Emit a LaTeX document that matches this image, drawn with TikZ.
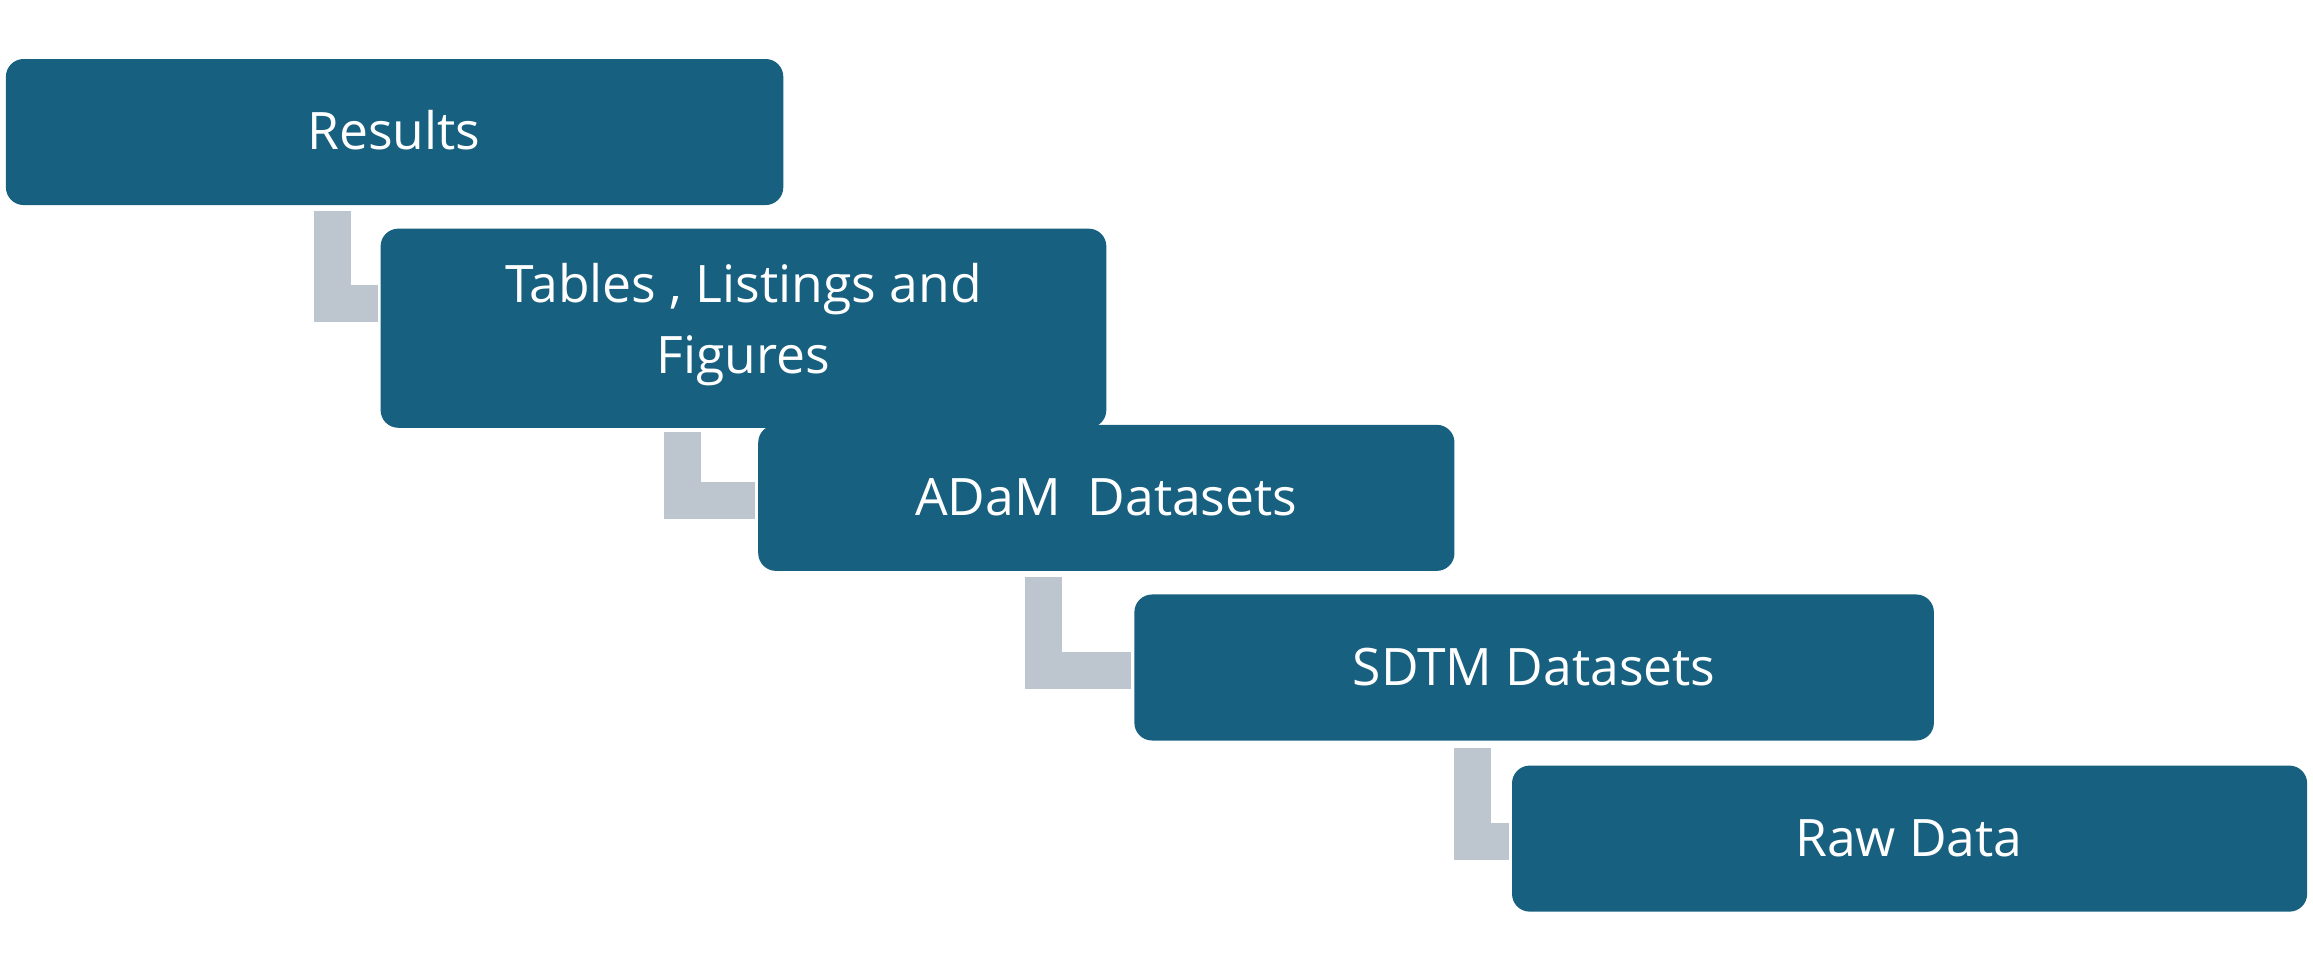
\documentclass[tikz,border=0pt]{standalone}
\usepackage{fontspec}
\setmainfont{Open Sans}
\definecolor{boxc}{HTML}{18607F}
\definecolor{linkc}{HTML}{BDC5CE}
\begin{document}
\begin{tikzpicture}[x=1pt,y=-1pt,
  box/.style={fill=boxc,rounded corners=12pt,draw=none},
  lbl/.style={text=white,font=\fontsize{35}{48}\selectfont,align=center},
  link/.style={draw=linkc,line width=25pt,line join=miter}]
\useasboundingbox (0,0) rectangle (1568,658);
\fill[box] (4,40) rectangle (531,139);
\fill[box] (258,155) rectangle (750,290);
\fill[box] (514,288) rectangle (986,387);
\fill[box] (769,403) rectangle (1311,502);
\fill[box] (1025,519) rectangle (1564,618);
\node[lbl] (r) at (267,88) {Results};
\node[lbl] (t) at (504,220) {Tables , Listings and\\Figures};
\node[lbl] (a) at (750,337) {ADaM\ \ Datasets};
\node[lbl] (s) at (1040,452) {SDTM Datasets};
\node[lbl] (w) at (1294,568) {Raw Data};
\coordinate (c1a) at (225.5,143); \coordinate (c1b) at (225.5,205.5); \coordinate (c1c) at (256,205.5);
\coordinate (c2a) at (462.5,293); \coordinate (c2b) at (462.5,339.5); \coordinate (c2c) at (512,339.5);
\coordinate (c3a) at (707.5,391); \coordinate (c3b) at (707.5,454.5); \coordinate (c3c) at (767,454.5);
\coordinate (c4a) at (998,507); \coordinate (c4b) at (998,570.5); \coordinate (c4c) at (1023,570.5);
\draw[link] (c1a) -- (c1b) -- (c1c);
\draw[link] (c2a) -- (c2b) -- (c2c);
\draw[link] (c3a) -- (c3b) -- (c3c);
\draw[link] (c4a) -- (c4b) -- (c4c);
\end{tikzpicture}
\end{document}
